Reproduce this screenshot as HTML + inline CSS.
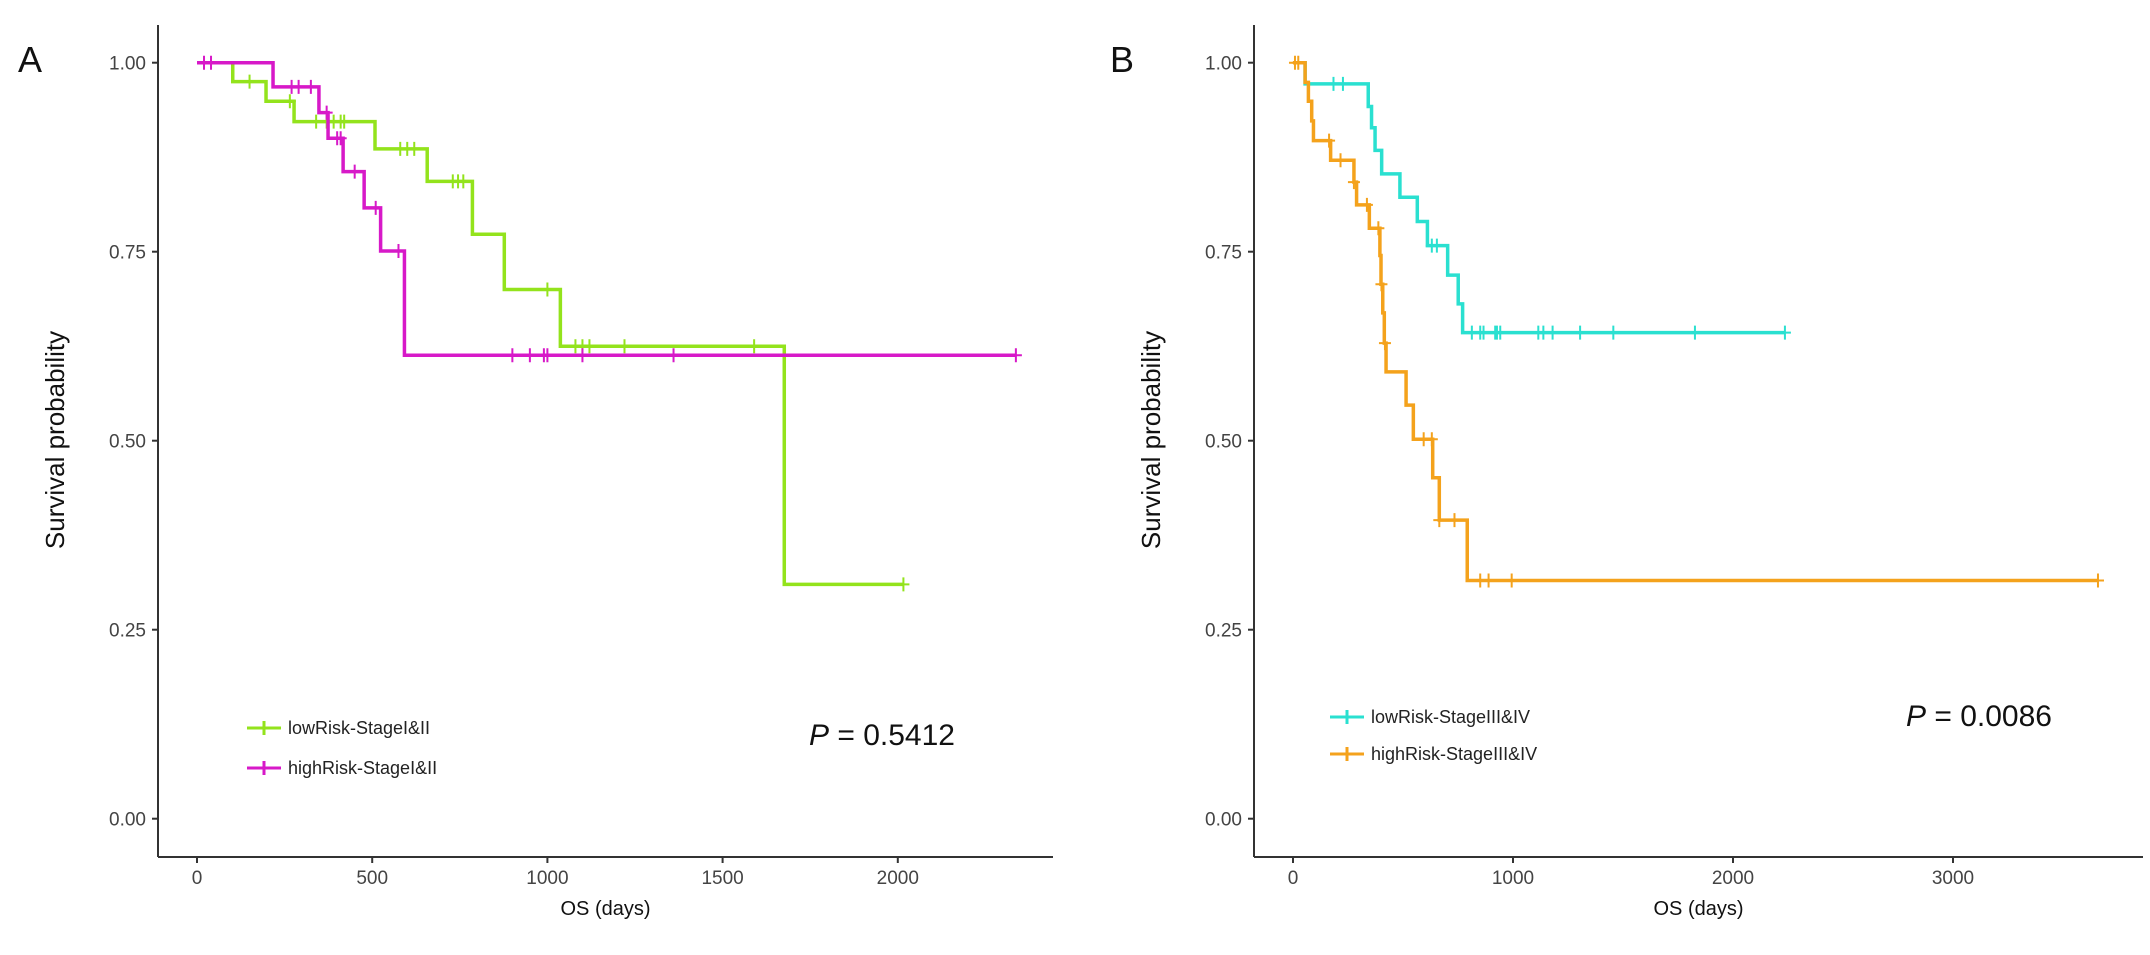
<!DOCTYPE html>
<html><head><meta charset="utf-8">
<style>
html,body{margin:0;padding:0;background:#fff;}
svg{display:block;font-family:"Liberation Sans",Arial,sans-serif;}
</style></head>
<body>
<svg id="chart" width="2150" height="955" viewBox="0 0 2150 955" xmlns="http://www.w3.org/2000/svg">
<g id="panelA"></g>
<g id="panelB"></g>
</svg>
<script>
// ---- Panel A data ----
const aTicksX = [0, 500, 1000, 1500, 2000];
const yTicks = [0, 0.25, 0.5, 0.75, 1.0];
const yTickLabels = ["0.00", "0.25", "0.50", "0.75", "1.00"];
const aLowTimes = [0, 102, 197, 277, 508, 657, 786, 877, 1037, 1676, 2016];
const aLowSurv = [1.0, 0.975, 0.949, 0.922, 0.886, 0.843, 0.773, 0.70, 0.625, 0.31, 0.31];
const aLowCensT = [150, 265, 340, 370, 390, 410, 420, 580, 600, 620, 730, 745, 760, 1000, 1080, 1100, 1120, 1220, 1590, 2016];
const aHighTimes = [0, 217, 348, 374, 417, 477, 524, 592, 2337];
const aHighSurv = [1.0, 0.968, 0.934, 0.90, 0.856, 0.808, 0.751, 0.613, 0.613];
const aHighCensT = [20, 40, 270, 290, 325, 370, 400, 410, 450, 510, 575, 900, 950, 990, 1000, 1100, 1360, 2337];
// ---- Panel B data ----
const bTicksX = [0, 1000, 2000, 3000];
const bLowTimes = [0, 55, 342, 357, 373, 403, 486, 565, 611, 703, 751, 771, 2236];
const bLowSurv = [1.0, 0.972, 0.942, 0.914, 0.884, 0.853, 0.822, 0.790, 0.758, 0.719, 0.681, 0.643, 0.643];
const bLowCensT = [184, 227, 631, 654, 813, 851, 866, 919, 927, 942, 1115, 1138, 1180, 1305, 1456, 1827, 2236];
const bHighTimes = [0, 55, 70, 85, 93, 171, 277, 289, 347, 395, 400, 408, 415, 423, 514, 547, 635, 665, 792, 3659];
const bHighSurv = [1.0, 0.974, 0.949, 0.923, 0.897, 0.871, 0.842, 0.812, 0.781, 0.745, 0.707, 0.669, 0.629, 0.591, 0.547, 0.502, 0.451, 0.395, 0.315, 0.315];
const bHighCensT = [9, 24, 164, 216, 277, 336, 388, 402, 418, 594, 631, 665, 734, 851, 889, 994, 3659];

const NS = "http://www.w3.org/2000/svg";
function mk(parent, tag, attrs, text) {
  const e = document.createElementNS(NS, tag);
  for (const k in attrs) e.setAttribute(k, attrs[k]);
  if (text !== undefined) e.textContent = text;
  parent.appendChild(e);
  return e;
}
function survAt(times, surv, t) {
  let s = surv[0];
  for (let i = 0; i < times.length; i++) if (times[i] <= t) s = surv[i];
  return s;
}
function panel(g, cfg) {
  const x = v => cfg.x0 + v * cfg.xs;
  const y = v => 818.7 - v * 756;
  // axes
  const ya = mk(g, "line", {x1: cfg.ax, y1: 25, x2: cfg.ax, y2: 857, stroke: "#333", "stroke-width": 2});
  
  
  const xa = mk(g, "line", {x1: cfg.ax, y1: 857, x2: cfg.axEnd, y2: 857, stroke: "#333", "stroke-width": 2});
  
  
  yTicks.forEach((v, i) => {
    const t = mk(g, "line", {x1: cfg.ax - 6, y1: y(v), x2: cfg.ax, y2: y(v), stroke: "#333", "stroke-width": 2});
    
    
    const l = mk(g, "text", {x: cfg.ax - 12, y: y(v) + 7, "text-anchor": "end", "font-size": 19, fill: "#444"}, yTickLabels[i]);
    
    
  });
  cfg.ticks.forEach(v => {
    const t = mk(g, "line", {x1: x(v), y1: 857, x2: x(v), y2: 863, stroke: "#333", "stroke-width": 2});
    
    
    const l = mk(g, "text", {x: x(v), y: 884, "text-anchor": "middle", "font-size": 19, fill: "#444"}, String(v));
    
    
  });
  const yt = mk(g, "text", {x: 0, y: 0, transform: `translate(${cfg.ax - 94},440) rotate(-90)`, "text-anchor": "middle", "font-size": 26, fill: "#111"}, "Survival probability");
  
  
  const xt = mk(g, "text", {x: (cfg.ax + cfg.axEnd) / 2, y: 915, "text-anchor": "middle", "font-size": 20, fill: "#111"}, "OS (days)");
  
  
  const pl = mk(g, "text", {x: cfg.lx, y: cfg.ly, "font-size": 36, fill: "#111"}, cfg.letter);
  
  
  // series
  cfg.series.forEach(s => {
    let d = `M${x(s.t[0])},${y(s.s[0])}`;
    for (let i = 1; i < s.t.length; i++) {
      d += ` H${x(s.t[i])} V${y(s.s[i])}`;
    }
    const p = mk(g, "path", {d: d, fill: "none", stroke: s.color, "stroke-width": 3.5});
    
    
    s.c.forEach(ct => {
      const cx = x(ct), cy = y(survAt(s.t, s.s, ct));
      const m = mk(g, "path", {d: `M${cx},${cy - 7} V${cy + 7} M${cx - 6},${cy} H${cx + 6}`, stroke: s.color, "stroke-width": 2, fill: "none"});
      
      
    });
    // legend
    const lg = mk(g, "g", {});
    
    
    mk(lg, "path", {d: `M${cfg.legX},${s.ly} H${cfg.legX + 34} M${cfg.legX + 17},${s.ly - 7} V${s.ly + 7}`, stroke: s.color, "stroke-width": 3, fill: "none"});
    mk(lg, "text", {x: cfg.legX + 41, y: s.ly + 6, "font-size": 18, fill: "#222"}, s.label);
  });
  const pv = mk(g, "text", {x: cfg.px, y: cfg.py, "font-size": 30, fill: "#111"});
  
  
  mk(pv, "tspan", {"font-style": "italic"}, "P");
  mk(pv, "tspan", {}, " = " + cfg.pval);
}
panel(document.getElementById("panelA"), {
  x0: 197, xs: 175.2 / 500, ax: 158, axEnd: 1053, ticks: aTicksX, letter: "A", lx: 18, ly: 72,
  legX: 247, px: 809, py: 745, pval: "0.5412",
  series: [
    {name: "low-risk-stage-1-2", label: "lowRisk-StageI&II", color: "#93e31c", t: aLowTimes, s: aLowSurv, c: aLowCensT, ly: 728},
    {name: "high-risk-stage-1-2", label: "highRisk-StageI&II", color: "#d719c8", t: aHighTimes, s: aHighSurv, c: aHighCensT, ly: 768}
  ]
});
panel(document.getElementById("panelB"), {
  x0: 1293, xs: 220 / 1000, ax: 1254, axEnd: 2143, ticks: bTicksX, letter: "B", lx: 1110, ly: 72,
  legX: 1330, px: 1906, py: 726, pval: "0.0086",
  series: [
    {name: "low-risk-stage-3-4", label: "lowRisk-StageIII&IV", color: "#2ae0d0", t: bLowTimes, s: bLowSurv, c: bLowCensT, ly: 717},
    {name: "high-risk-stage-3-4", label: "highRisk-StageIII&IV", color: "#f4a21c", t: bHighTimes, s: bHighSurv, c: bHighCensT, ly: 754}
  ]
});
</script>
</body></html>
